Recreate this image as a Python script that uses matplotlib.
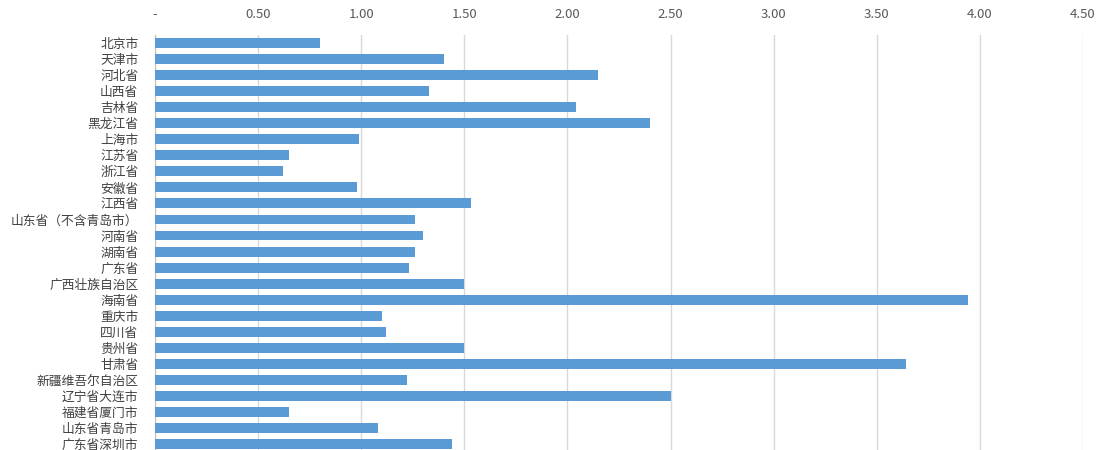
import matplotlib.pyplot as plt
from matplotlib.ticker import FuncFormatter

plt.rcParams['font.family'] = ['Noto Sans CJK SC', 'DejaVu Sans']

regions = ['北京市', '天津市', '河北省', '山西省', '吉林省', '黑龙江省', '上海市', '江苏省',
           '浙江省', '安徽省', '江西省', '山东省（不含青岛市）', '河南省', '湖南省', '广东省',
           '广西壮族自治区', '海南省', '重庆市', '四川省', '贵州省', '甘肃省', '新疆维吾尔自治区',
           '辽宁省大连市', '福建省厦门市', '山东省青岛市', '广东省深圳市']
values = [0.80, 1.40, 2.15, 1.33, 2.04, 2.40, 0.99, 0.65, 0.62, 0.98, 1.53, 1.26, 1.30,
          1.26, 1.23, 1.50, 3.94, 1.10, 1.12, 1.50, 3.64, 1.22, 2.50, 0.65, 1.08, 1.44]
ticks = [0, 0.5, 1.0, 1.5, 2.0, 2.5, 3.0, 3.5, 4.0, 4.5]

fig = plt.figure(figsize=(11.02, 4.5), dpi=100)
ax = fig.add_axes([155 / 1102, 0, (1083 - 155) / 1102, 1 - 35 / 450])

ax.barh(range(len(regions)), values, height=0.62, color='#5B9BD5', zorder=3)
ax.set_yticks(range(len(regions)))
ax.set_yticklabels(regions, fontsize=9.2, color='#404040')
ax.set_ylim(25.37, -0.5)
ax.set_xlim(0, 4.5)
ax.set_xticks(ticks)
ax.xaxis.set_major_formatter(FuncFormatter(lambda v, p: '-' if v == 0 else f'{v:.2f}'))
ax.xaxis.tick_top()
ax.tick_params(axis='x', length=0, labelsize=9.5, labelcolor='#595959', pad=10)
ax.tick_params(axis='y', length=0, pad=12)
ax.grid(axis='x', color='#d9d9d9', linewidth=1, zorder=0)
for s in ['top', 'right', 'bottom']:
    ax.spines[s].set_visible(False)
ax.spines['left'].set_color('#bfbfbf')

fig.savefig('out.png', dpi=100)
